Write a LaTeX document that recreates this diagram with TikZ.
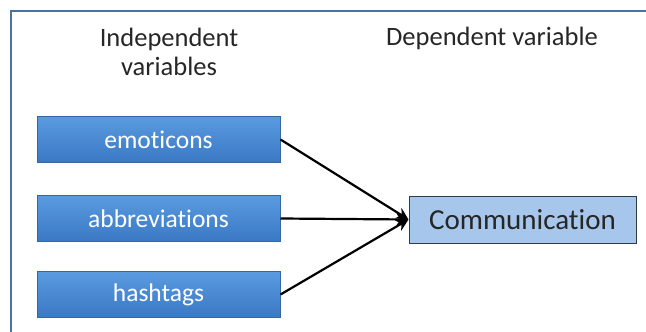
\documentclass[tikz,border=0pt]{standalone}
\usepackage{fontspec}
\setmainfont[Ligatures=CommonOff]{Carlito}
\usetikzlibrary{arrows.meta}
\definecolor{framecol}{HTML}{4A73A0}
\definecolor{ivtop}{HTML}{5A9BE0}
\definecolor{ivbot}{HTML}{3A78C4}
\definecolor{ivline}{HTML}{3567A0}
\definecolor{dvfill}{HTML}{A6C6EC}
\definecolor{dvline}{HTML}{2E3A48}
\tikzset{
  ivbox/.style={draw=ivline, line width=1pt, top color=ivtop, bottom color=ivbot,
    minimum width=243pt, minimum height=46pt, inner sep=0pt,
    text=white, font=\fontsize{25.5}{25.5}\selectfont},
  dvbox/.style={draw=dvline, line width=1pt, fill=dvfill,
    minimum width=227pt, minimum height=47pt, inner sep=0pt,
    text=black!85, font=\fontsize{29}{29}\selectfont},
  heading/.style={align=center, font=\fontsize{26.5}{29}\selectfont, text=black!85},
  link/.style={line width=2.2pt, -{Stealth[length=12pt,width=12pt]}}
}
\begin{document}
\begin{tikzpicture}[x=1pt,y=-1pt]
\useasboundingbox (0,0) rectangle (646,332);
% open frame round the diagram
\draw[framecol, line width=2pt] (11,334) -- (11,11) -- (648,11);
% headings
\node[heading] (hind) at (169,52) {Independent\\variables};
\node[heading] (hdep) at (492,38) {Dependent variable};
% independent variables
\node[ivbox] (emo) at (158.5,139.5) {emoticons};
\node[ivbox] (abb) at (158.5,218.5) {abbreviations};
\node[ivbox] (hash) at (158.5,294.5) {hashtags};
% dependent variable
\node[dvbox] (com) at (522.5,219.5) {Communication};
% connectors
\draw[link] (emo.east) -- (com.west);
\draw[link] (abb.east) -- (com.west);
\draw[link] (hash.east) -- (com.west);
\end{tikzpicture}
\end{document}
